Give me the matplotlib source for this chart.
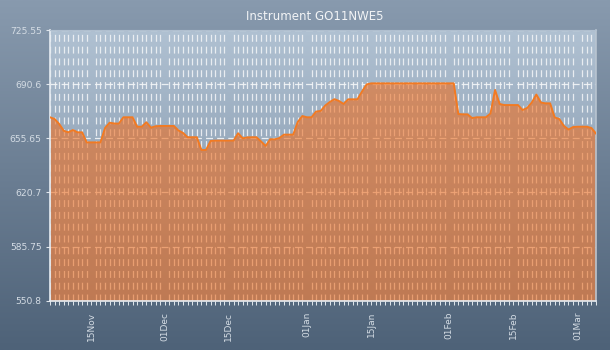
import numpy as np
import pandas as pd
import matplotlib
matplotlib.use("Agg")
import matplotlib.pyplot as plt
import matplotlib.dates as mdates

# daily closing values
values = [
    669.2, 668.1, 664.9, 660.5, 659.5, 661.0, 659.5, 659.5, 653.0, 653.0,
    653.0, 653.0, 662.3, 665.7, 665.2, 665.1, 669.2, 669.2, 669.2, 663.1,
    663.1, 666.0, 662.5, 663.4, 663.6, 663.6, 663.6, 663.6, 660.7, 659.1,
    656.3, 656.3, 656.3, 648.1, 648.1, 653.9, 654.1, 654.1, 654.1, 654.1,
    654.1, 658.9, 655.6, 656.2, 656.3, 656.3, 653.6, 650.7, 655.0, 655.0,
    655.8, 658.0, 658.0, 658.0, 666.2, 670.0, 669.2, 669.2, 672.9, 673.3,
    676.8, 679.1, 680.9, 679.7, 677.8, 680.8, 680.8, 680.8, 685.8, 690.4,
    691.1, 691.1, 691.1, 691.1, 691.1, 691.1, 691.1, 691.1, 691.1, 691.1,
    691.1, 691.1, 691.1, 691.1, 691.1, 691.1, 691.1, 691.1, 691.1, 671.3,
    671.1, 671.1, 668.7, 669.2, 669.2, 669.2, 671.6, 686.8, 677.8, 677.1,
    677.1, 677.1, 677.1, 673.9, 675.2, 678.7, 683.9, 678.7, 678.2, 678.2,
    669.1, 668.1, 663.6, 661.3, 662.9, 663.1, 663.1, 663.1, 662.3, 658.7,
]
dates = pd.date_range("2010-11-06", periods=len(values), freq="D")
yticks = [550.8, 585.75, 620.7, 655.65, 690.6, 725.55]
title = "Instrument GO11NWE5"

plt.rcParams["lines.scale_dashes"] = False
plt.rcParams["font.family"] = "DejaVu Sans"

fig = plt.figure(figsize=(6.1, 3.5), dpi=100)

# figure background gradient
bg = fig.add_axes([0, 0, 1, 1], zorder=0)
grad = np.linspace(0, 1, 256).reshape(-1, 1)
top_c = np.array([136, 154, 174]) / 255
bot_c = np.array([78, 98, 120]) / 255
img = top_c * (1 - grad[..., None]) + bot_c * grad[..., None]
bg.imshow(img, aspect="auto", extent=[0, 1, 0, 1])
bg.axis("off")

ax = fig.add_axes([50 / 610, 1 - 300.7 / 350, 546 / 610, 270.7 / 350], zorder=1)
ax.patch.set_alpha(0)
ax.set_axisbelow(True)

x = mdates.date2num(dates)
x0, x1 = x[0], x[-1]
ymin, ymax = yticks[0], yticks[-1]

# plot area gradient
pgrad = np.linspace(0, 1, 256).reshape(-1, 1)
p_top = np.array([176, 193, 210]) / 255
p_bot = np.array([120, 140, 162]) / 255
pimg = p_top * (1 - pgrad[..., None]) + p_bot * pgrad[..., None]
ax.imshow(pimg, aspect="auto", extent=[x0, x1, ymin, ymax], zorder=0)

# dashed grid, seen through the translucent fill
ax.grid(True, axis="y", which="major", color="#f4f6f8", alpha=0.9, lw=0.9,
        linestyle=(0, (5, 3)))
ax.grid(True, axis="x", which="minor", color="#f4f6f8", alpha=0.85, lw=0.9,
        linestyle=(0, (5, 3.5)))

ax.fill_between(x, ymin, values, color="#ee6e20", alpha=0.6, zorder=1,
                linewidth=0)
ax.plot(x, values, color="#f27a22", lw=1.4, zorder=3)

ax.set_xlim(x0, x1)
ax.set_ylim(ymin, ymax)

ax.set_yticks(yticks)
ax.set_yticklabels([f"{v:g}" for v in yticks])

ax.xaxis.set_major_locator(mdates.DayLocator(bymonthday=[1, 15]))
ax.xaxis.set_major_formatter(mdates.DateFormatter("%d%b"))
ax.xaxis.set_minor_locator(mdates.DayLocator())
ax.grid(False, axis="x", which="major")

lab_c = "#d4dce4"
ax.tick_params(axis="y", colors="#e0e6ec", labelcolor=lab_c, labelsize=6.6,
               length=3, width=0.8, pad=3)
ax.tick_params(axis="x", which="both", colors="#e0e6ec", length=3, width=0.7)
ax.tick_params(axis="x", which="major", labelcolor=lab_c, labelsize=6.5,
               labelrotation=90, pad=5)

for side in ("left", "bottom"):
    ax.spines[side].set_color("#e6ecf2")
    ax.spines[side].set_linewidth(1.2)
ax.spines["right"].set_color("#b8c4d0")
ax.spines["right"].set_linewidth(1.2)
ax.spines["top"].set_color("#b0bfcf")
ax.spines["top"].set_linewidth(0.8)

fig.text(315 / 610, 1 - 17 / 350, title, ha="center", va="center",
         fontsize=8.5, color="#f2f4f6")

fig.savefig("out.png", dpi=100)
